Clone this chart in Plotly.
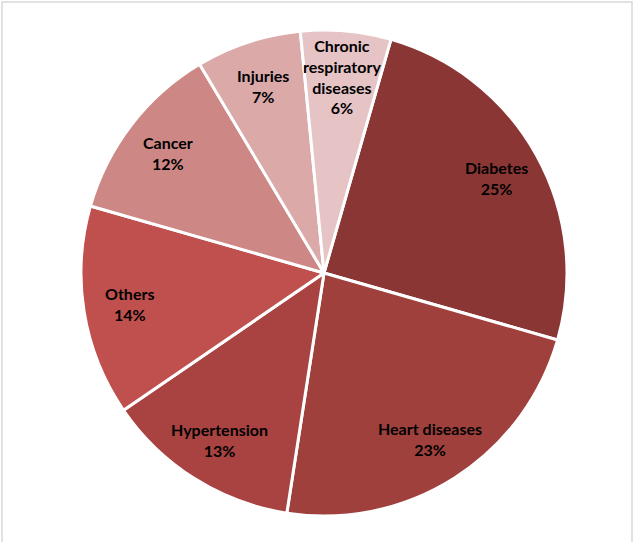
import math
import plotly.graph_objects as go

labels = ["Diabetes", "Heart diseases", "Hypertension", "Others", "Cancer", "Injuries",
          "Chronic<br>respiratory<br>diseases"]
values = [25, 23, 13, 14, 12, 7, 6]
colors = ["#8A3634", "#9F403D", "#A94341", "#C0504D", "#CD8785", "#DAA9A8", "#E6C4C5"]
rotation = 16

fig = go.Figure(go.Pie(
    labels=labels,
    values=values,
    sort=False,
    direction="clockwise",
    rotation=rotation,
    marker=dict(colors=colors, line=dict(color="white", width=3)),
    textinfo="none",
    hoverinfo="label+percent",
    showlegend=False,
    domain=dict(x=[0, 1], y=[0, 1]),
))

# data labels placed along each slice's mid-angle (computed from the values)
total = sum(values)
annotations = []
cum = 0
for lab, v in zip(labels, values):
    mid = math.radians(rotation + 360 * (cum + v / 2) / total)
    cum += v
    r = 0.5 * 0.81
    annotations.append(dict(
        x=0.5 + r * math.sin(mid), y=0.5 + r * math.cos(mid),
        xref="paper", yref="paper", xanchor="center", yanchor="middle",
        showarrow=False,
        text=f"<b>{lab}<br>{round(100 * v / total)}%</b>",
        font=dict(family="Lato, Open Sans, sans-serif", size=16, color="black"),
        align="center",
    ))

fig.update_layout(
    width=634, height=542,
    margin=dict(l=81, r=67, t=30, b=26),
    paper_bgcolor="white",
    plot_bgcolor="white",
    annotations=annotations,
    shapes=[dict(type="rect", xref="paper", yref="paper",
                 x0=-79 / 486, x1=1 + 65 / 486, y0=-40 / 486, y1=1 + 28 / 486,
                 line=dict(color="#D9D9D9", width=1.5), fillcolor="rgba(0,0,0,0)", layer="below")],
)

fig.write_html("out.html", config={"displayModeBar": False},
               post_script="document.body.style.margin='0';")
